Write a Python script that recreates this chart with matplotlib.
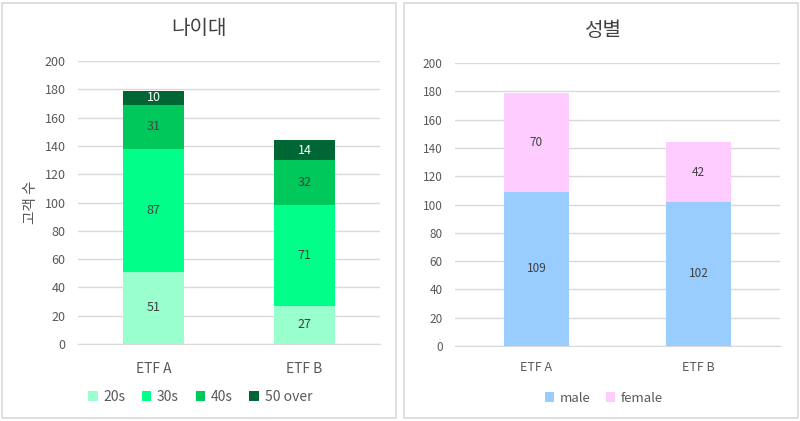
import matplotlib
matplotlib.use('Agg')
import matplotlib.pyplot as plt
from matplotlib.patches import Rectangle
import numpy as np

plt.rcParams['font.family'] = ['Noto Sans CJK KR', 'DejaVu Sans']

etfs = ['ETF A', 'ETF B']

# age groups (bottom to top)
age_labels = ['20s', '30s', '40s', '50 over']
age_values = [[51, 27], [87, 71], [31, 32], [10, 14]]
age_colors = ['#99FFCC', '#00FF88', '#00C85A', '#006633']
age_text = ['#404040', '#404040', '#404040', '#FFFFFF']

# gender (bottom to top)
sex_labels = ['male', 'female']
sex_values = [[109, 102], [70, 42]]
sex_colors = ['#99CCFF', '#FFCCFF']

yticks = [0, 20, 40, 60, 80, 100, 120, 140, 160, 180, 200]

fig = plt.figure(figsize=(8, 4.21), dpi=100)

# panel frames
for x0 in [2 / 800, 404 / 800]:
    fig.patches.append(Rectangle((x0, 3 / 421), 394 / 800, 415 / 421, transform=fig.transFigure,
                                 fill=False, edgecolor='#D9D9D9', linewidth=1.2))


def stacked(ax, values, colors, labels, txtcolors, fs):
    x = np.arange(len(etfs))
    bottom = np.zeros(len(etfs))
    for vals, c, lab, tc in zip(values, colors, labels, txtcolors):
        bars = ax.bar(x, vals, 0.4, bottom=bottom, color=c, label=lab, zorder=3)
        for b, v, bt in zip(bars, vals, bottom):
            ax.text(b.get_x() + b.get_width() / 2, bt + v / 2, str(v), ha='center', va='center',
                    fontsize=fs, color=tc, zorder=4)
        bottom = bottom + np.array(vals)
    ax.set_xlim(-0.5, 1.5)
    ax.set_ylim(0, 200)
    ax.set_yticks(yticks)
    ax.set_xticks(x)
    ax.set_xticklabels(etfs)
    ax.grid(axis='y', color='#D9D9D9', linewidth=1, zorder=0)
    for s in ['top', 'right', 'left']:
        ax.spines[s].set_visible(False)
    ax.spines['bottom'].set_color('#D9D9D9')
    ax.tick_params(length=0, colors='#595959', labelsize=9)
    ax.tick_params(axis='x', labelsize=10, pad=13)


ax1 = fig.add_axes([0.0975, 0.183, 0.3775, 0.672])
stacked(ax1, age_values, age_colors, age_labels, age_text, 9)
ax1.tick_params(axis='y', pad=9)
ax1.set_ylabel('고객 수', color='#595959', fontsize=10.5, labelpad=5)
fig.text(199 / 800, 1 - 28 / 421, '나이대', fontsize=14.5, color='#404040', ha='center', va='center')
fig.legend(*ax1.get_legend_handles_labels(), loc='center', bbox_to_anchor=(200 / 800, 1 - 397 / 421),
           ncol=4, frameon=False, fontsize=10, handlelength=0.7, handleheight=0.7, handletextpad=0.4,
           columnspacing=1.2, labelcolor='#595959')

ax2 = fig.add_axes([0.569, 0.178, 0.406, 0.672])
stacked(ax2, sex_values, sex_colors, sex_labels, ['#404040', '#404040'], 8.5)
ax2.tick_params(axis='y', pad=9, labelsize=8.5)
ax2.tick_params(axis='x', labelsize=9, pad=11)
fig.text(603 / 800, 1 - 31 / 421, '성별', fontsize=14.5, color='#404040', ha='center', va='center')
fig.legend(*ax2.get_legend_handles_labels(), loc='center', bbox_to_anchor=(604 / 800, 1 - 398 / 421),
           ncol=2, frameon=False, fontsize=9.5, handlelength=0.7, handleheight=0.7, handletextpad=0.4,
           columnspacing=1.2, labelcolor='#595959')

fig.savefig('out.png', dpi=100)
